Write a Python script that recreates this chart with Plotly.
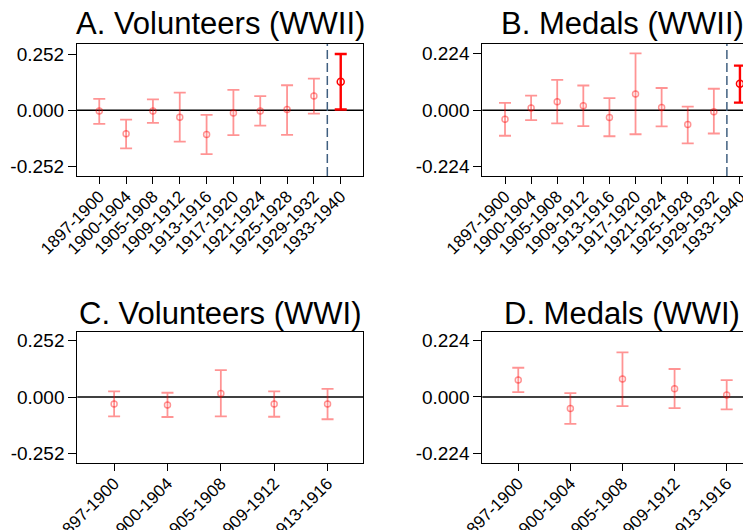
import plotly.graph_objects as go

# ---------------- data ----------------
cohorts_ww2 = ["1897-1900", "1900-1904", "1905-1908", "1909-1912", "1913-1916",
               "1917-1920", "1921-1924", "1925-1928", "1929-1932", "1933-1940"]
cohorts_ww1 = ["1897-1900", "1900-1904", "1905-1908", "1909-1912", "1913-1916"]

vol2_est = [-0.003, -0.106, -0.003, -0.031, -0.109, -0.012, -0.003, 0.003, 0.064, 0.128]
vol2_hi  = [0.051, -0.042, 0.049, 0.079, -0.021, 0.091, 0.063, 0.112, 0.142, 0.252]
vol2_lo  = [-0.061, -0.171, -0.057, -0.141, -0.197, -0.112, -0.069, -0.111, -0.015, 0.003]

med2_est = [-0.036, 0.008, 0.033, 0.017, -0.029, 0.064, 0.010, -0.057, -0.006, 0.105]
med2_hi  = [0.029, 0.058, 0.120, 0.098, 0.048, 0.226, 0.088, 0.014, 0.085, 0.177]
med2_lo  = [-0.102, -0.040, -0.053, -0.064, -0.104, -0.096, -0.065, -0.132, -0.093, 0.030]

vol1_est = [-0.031, -0.036, 0.016, -0.031, -0.031]
vol1_hi  = [0.025, 0.019, 0.120, 0.025, 0.036]
vol1_lo  = [-0.086, -0.089, -0.086, -0.088, -0.099]

med1_est = [0.067, -0.046, 0.071, 0.033, 0.008]
med1_hi  = [0.116, 0.015, 0.177, 0.111, 0.067]
med1_lo  = [0.019, -0.107, -0.036, -0.044, -0.049]

ytick_vol = [-0.252, 0.0, 0.252]
ytick_med = [-0.224, 0.0, 0.224]
titles = ["A. Volunteers (WWII)", "B. Medals (WWII)", "C. Volunteers (WWI)", "D. Medals (WWI)"]

# ---------------- style ----------------
W, H = 751, 530
OFF = 8  # page body margin
FONT = "Liberation Sans, Arial, sans-serif"
FADED = "rgba(255,0,0,0.42)"
SOLID = "rgb(255,0,0)"
DASH = "#3f5f80"

def px(x):
    return (x - OFF) / W

def py(y):
    return 1 - (y - OFF) / H

panels = [
    dict(ax="", est=vol2_est, hi=vol2_hi, lo=vol2_lo, cats=cohorts_ww2, yt=ytick_vol,
         xd=[px(77), px(363)], yd=[py(176), py(44)], xr=[0.17, 10.83], yr=[-0.295, 0.297],
         highlight=True, box=True),
    dict(ax="2", est=med2_est, hi=med2_hi, lo=med2_lo, cats=cohorts_ww2, yt=ytick_med,
         xd=[px(482.3), 1.0], yd=[py(176), py(44)], xr=[0.13, 10.73], yr=[-0.262, 0.263],
         highlight=True, box=False),
    dict(ax="3", est=vol1_est, hi=vol1_hi, lo=vol1_lo, cats=cohorts_ww1, yt=ytick_vol,
         xd=[px(77.3), px(363.3)], yd=[py(463), py(331.7)], xr=[0.31, 5.67], yr=[-0.294, 0.291],
         highlight=False, box=True),
    dict(ax="4", est=med1_est, hi=med1_hi, lo=med1_lo, cats=cohorts_ww1, yt=ytick_med,
         xd=[px(482.3), 1.0], yd=[py(463), py(331.7)], xr=[0.31, 5.62], yr=[-0.262, 0.259],
         highlight=False, box=False),
]

fig = go.Figure()
layout = {}
shapes = []
for p in panels:
    n = len(p["cats"])
    xs = list(range(1, n + 1))
    nf = n - 1 if p["highlight"] else n
    groups = [(0, nf, FADED, 1.8, 6)]
    if p["highlight"]:
        groups.append((nf, n, SOLID, 2.4, 7))
    for a, b, col, th, ms in groups:
        est = p["est"][a:b]
        fig.add_trace(go.Scatter(
            x=xs[a:b], y=est, mode="markers",
            marker=dict(symbol="circle-open", size=ms, color=col, line=dict(width=1.5, color=col)),
            error_y=dict(type="data", symmetric=False,
                         array=[h - e for h, e in zip(p["hi"][a:b], est)],
                         arrayminus=[e - l for e, l in zip(est, p["lo"][a:b])],
                         color=col, thickness=th, width=6),
            xaxis="x" + p["ax"], yaxis="y" + p["ax"], showlegend=False, hoverinfo="skip"))
    xa = "xaxis" + p["ax"]
    ya = "yaxis" + p["ax"]
    layout[xa] = dict(domain=p["xd"], range=p["xr"], anchor="y" + p["ax"],
                      tickvals=xs, ticktext=p["cats"], tickangle=-45, automargin=False,
                      ticks="outside", ticklen=7, tickcolor="black", ticklabelstandoff=-4,
                      showline=True, linecolor="black", linewidth=1, mirror=True,
                      showgrid=False, zeroline=False,
                      tickfont=dict(family=FONT, size=17, color="black"))
    layout[ya] = dict(domain=p["yd"], range=p["yr"], anchor="x" + p["ax"],
                      tickvals=p["yt"], ticktext=["%.3f" % v for v in p["yt"]], automargin=False,
                      ticks="outside", ticklen=8, tickcolor="black",
                      showline=True, linecolor="black", linewidth=1, mirror=p["box"],
                      showgrid=False, zeroline=False,
                      tickfont=dict(family=FONT, size=19, color="black"))
    xref = "x" + p["ax"]
    yref = "y" + p["ax"]
    shapes.append(dict(type="line", xref=xref + " domain", yref=yref, x0=0, x1=1, y0=0, y1=0,
                       line=dict(color="black", width=1.5), layer="below"))
    if p["highlight"]:
        shapes.append(dict(type="line", xref=xref, yref=yref + " domain", x0=n - 0.5, x1=n - 0.5,
                           y0=0, y1=1, line=dict(color=DASH, width=1.5, dash="9px,4px")))

annotations = []
title_pos = [(220, 24), (622, 24), (220, 313), (622, 313)]
for t, (cx, cy) in zip(titles, title_pos):
    annotations.append(dict(text=t, x=px(cx), y=py(cy), xref="paper", yref="paper",
                            xanchor="center", yanchor="middle", showarrow=False,
                            font=dict(family=FONT, size=31, color="black")))

fig.update_layout(width=W, height=H,
                  margin=dict(l=0, r=0, t=0, b=0, pad=0, autoexpand=False),
                  paper_bgcolor="white", plot_bgcolor="white",
                  shapes=shapes, annotations=annotations, **layout)
fig.write_html("out.html")
